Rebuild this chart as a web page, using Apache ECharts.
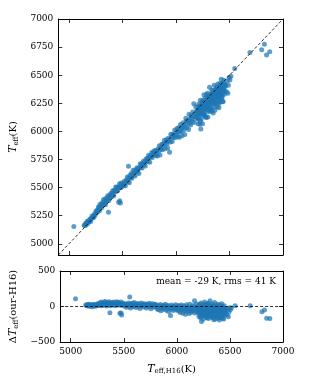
<!DOCTYPE html>
<html><head><meta charset="utf-8">
<script src="https://cdn.jsdelivr.net/npm/echarts@6/dist/echarts.min.js"></script>
<style>html,body{margin:0;padding:0;background:#fff}#c{width:315px;height:385px}</style>
</head><body><div id="c"></div>
<script>
// H16 effective temperatures (K)
const teffH16 = [
 5045,
 5142,5148,5155,5160,5166,5171,5178,5183,5190,5196,5203,5208,5215,5221,5228,5234,5240,5247,5253,5259,
 5264,5270,5275,5281,5286,5290,5296,5302,5307,5312,5318,5323,5329,5334,5340,5345,5351,5356,5362,5367,
 5373,5379,5384,5390,5396,5401,5407,5412,5418,5424,5430,5436,5442,5448,5454,5460,5466,5472,5478,5484,5490,5496,
 5369,5464,5474,5480,5556,
 5503,5509,5515,5521,5527,5533,5539,5545,5551,5557,5563,5569,5575,5581,5587,5593,5599,5605,5611,5617,
 5623,5629,5635,5641,5647,5653,5659,5665,5671,5677,5683,5689,5695,5701,5707,5713,5719,5725,5731,5737,
 5743,5749,5755,5761,5767,5773,5779,5785,5791,5797,
 5803,5809,5815,5821,5826,5832,5838,5844,5850,5856,5862,5868,5874,5880,5886,5892,5898,5904,5910,5916,
 5922,5928,5934,5940,5946,5952,5958,5964,5970,5976,5982,5988,5994,
 6002,6007,6012,6017,6022,6027,6032,6037,6042,6047,6052,6057,6062,6067,6072,6077,6082,6087,6092,6097,
 6102,6107,6112,6117,6122,6127,6132,6137,6142,6147,6152,6157,6162,6166,6170,6175,6180,6185,6190,6195,6199,
 6201,6203,6206,6208,6211,6213,6216,6218,6221,6223,6226,6228,6231,6233,6236,6238,6241,6243,6246,6248,
 6251,6253,6256,6258,6261,6263,6266,6268,6271,6273,6276,6278,6281,6283,6286,6288,6291,6293,6296,6298,
 6301,6303,6306,6308,6311,6313,6316,6318,6321,6323,6326,6328,6331,6333,6336,6338,6341,6343,6346,6348,
 6351,6353,6356,6358,6361,6363,6366,6368,6371,6373,6376,6378,6381,6383,6386,6388,6391,6393,6396,6398,
 6401,6403,6406,6408,6411,6413,6416,6418,6421,6423,6426,6428,6431,6433,6436,6438,6441,6443,6446,6448,
 6451,6453,6456,6458,
 6204,6209,6214,6219,6224,6229,6234,6239,6244,6249,6254,6259,6264,6269,6274,6279,6284,6289,6294,6299,
 6304,6309,6314,6319,6324,6329,6334,6339,6344,6349,6354,6359,6364,6369,6374,6379,6384,6389,6394,6399,
 6404,6409,6414,6419,6424,6429,6434,6439,6444,6449,
 6465,6472,6478,6485,6490,6497,6504,6513,6549,
 6232,6691,6801,6826,6846,6876
];
// our - H16 (K)
const deltaTeff = [
 108,
 22,15,28,8,18,30,5,20,12,25,-4,16,33,9,21,2,27,14,38,19,
 35,18,52,40,10,62,28,45,15,55,33,70,22,48,8,60,38,25,66,42,
 12,50,30,58,20,45,64,35,10,52,40,68,26,55,18,44,30,62,38,15,50,28,
 -88,-95,-92,-118,134,
 25,5,40,15,-10,32,18,50,2,28,-20,38,12,45,-5,22,55,8,30,-15,
 35,18,42,0,25,-28,15,48,10,30,-8,22,40,5,18,-22,35,12,28,-5,
 45,15,-30,20,8,38,-12,25,2,30,
 -5,20,-30,5,-45,12,-15,28,-60,0,-22,18,-38,8,-10,30,-52,-2,15,-28,
 -70,10,-18,-126,-40,22,-8,-55,5,-32,-15,25,-48,
 -10,-40,15,-65,-25,5,-85,-35,20,-50,-12,-95,-30,10,-60,-20,-110,-45,25,-5,
 -70,-35,-15,-100,30,-55,-25,-80,0,-40,-65,15,-30,80,-90,-20,-50,35,-75,-10,-45,
 -20,-85,10,-140,-45,30,-110,-60,-5,-160,-35,50,-75,-15,-125,-50,20,-95,-30,-180,
 -65,5,-40,-105,65,-55,-10,-130,-70,25,-45,-150,-20,-90,40,-60,-115,0,-35,-170,
 -80,15,-50,-100,-25,80,-140,-65,10,-40,-120,-30,-75,35,-155,-55,-5,-95,-40,-185,
 -20,-110,55,-70,-30,-145,-60,5,-90,-45,-125,20,-15,-80,-165,-50,30,-100,-35,-60,
 -190,-10,-120,-75,15,-45,-150,-25,-95,40,-55,-135,-70,-5,-110,-40,-175,-85,10,-60,
 -120,-30,-90,-50,
 -50,-25,-90,5,-65,-140,-35,-10,-80,-55,25,-100,-45,-130,-15,-70,-160,-30,45,-85,
 -50,-120,0,-65,-105,-20,-150,-40,-75,15,-95,-55,-175,-25,-115,-60,-5,-135,-45,-85,
 -155,-30,-100,-65,-10,-125,-170,-50,-90,-40,
 -60,-120,-30,-145,-80,-18,-47,-22,10,
 -210,12,-75,-50,-166,-168
];
const xTicks = [5000,5500,6000,6500,7000];
const yTicksTop = [5000,5250,5500,5750,6000,6250,6500,6750,7000];
const yTicksBottom = [-500,0,500];
const xRange = [4900,7000];
const yRangeTop = [4900,7000];
const yRangeBottom = [-500,500];
const oneToOne = [4900,7000];
const annotation = 'mean = -29 K, rms = 41 K';

const FONT = 'DejaVu Serif';
const topData = teffH16.map((x,i)=>[x, x + deltaTeff[i]]);
const botData = teffH16.map((x,i)=>[x, deltaTeff[i]]);
const fmt = v => String(v).replace('-', '\u2212');

function axis(gridIndex, position, ticks, range, showLabel, extra) {
  return Object.assign({
    type:'value', gridIndex, position, min:range[0], max:range[1],
    axisLine:{show:true, onZero:false, lineStyle:{color:'#000', width:1}},
    axisTick:{show:true, inside:true, length:4, customValues:ticks, lineStyle:{color:'#000', width:0.8}},
    axisLabel:{show:showLabel, customValues:ticks, formatter:fmt, color:'#000', fontFamily:FONT, fontSize:9, margin:5},
    splitLine:{show:false}
  }, extra||{});
}
const richName = {
  i:{fontFamily:FONT, fontStyle:'italic', fontSize:11, color:'#000'},
  s:{fontFamily:FONT, fontSize:7, color:'#000', padding:[5,0,0,0]},
  n:{fontFamily:FONT, fontSize:10, color:'#000'}
};
const chart = echarts.init(document.getElementById('c'), null, {renderer:'canvas'});
chart.setOption({
  animation:false,
  backgroundColor:'#fff',
  grid:[
    {left:47, top:19, width:236, height:236, show:false},
    {left:47, top:271, width:236, height:71, show:false}
  ],
  xAxis:[
    axis(0,'bottom',xTicks,xRange,false),
    axis(0,'top',xTicks,xRange,false),
    axis(1,'bottom',xTicks,xRange,true,{
      name:'{i|T}{s|eff,H16}{n|(K)}', nameLocation:'middle', nameGap:21,
      nameTextStyle:{rich:richName}
    }),
    axis(1,'top',xTicks,xRange,false)
  ],
  yAxis:[
    axis(0,'left',yTicksTop,yRangeTop,true,{
      name:'{i|T}{s|eff}{n|(K)}', nameLocation:'middle', nameGap:38,
      nameTextStyle:{rich:richName}
    }),
    axis(0,'right',yTicksTop,yRangeTop,false),
    axis(1,'left',yTicksBottom,yRangeBottom,true,{
      name:'{n|\u0394}{i|T}{s|eff}{n|(our-H16)}', nameLocation:'middle', nameGap:38,
      nameTextStyle:{rich:richName}
    }),
    axis(1,'right',yTicksBottom,yRangeBottom,false)
  ],
  series:[
    {type:'scatter', xAxisIndex:0, yAxisIndex:0, data:topData, symbolSize:5,
     itemStyle:{color:'#1f77b4', opacity:0.72}, z:2},
    {type:'line', xAxisIndex:0, yAxisIndex:0, data:[[oneToOne[0],oneToOne[0]],[oneToOne[1],oneToOne[1]]],
     symbol:'none', lineStyle:{color:'#000', width:0.8, type:[3,2]}, z:3},
    {type:'scatter', xAxisIndex:2, yAxisIndex:2, data:botData, symbolSize:5,
     itemStyle:{color:'#1f77b4', opacity:0.72}, z:2},
    {type:'line', xAxisIndex:2, yAxisIndex:2, data:[[xRange[0],0],[xRange[1],0]],
     symbol:'none', lineStyle:{color:'#000', width:0.8, type:[3,2]}, z:3}
  ],
  graphic:[
    {type:'text', x:276, y:282, z:10, style:{text:annotation, fill:'#000', font:'9px "DejaVu Serif"', align:'right', verticalAlign:'middle'}}
  ]
});
</script></body></html>
